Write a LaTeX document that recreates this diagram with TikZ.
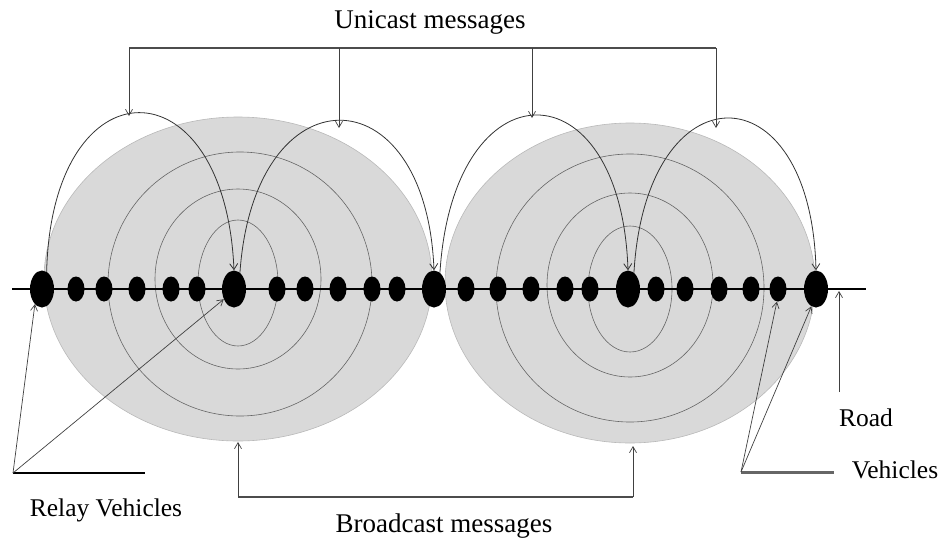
\documentclass[tikz,border=0pt]{standalone}
\usepackage{fontspec}
\setmainfont{Liberation Serif}
\usetikzlibrary{positioning,shapes.geometric,arrows.meta}

\begin{document}
\begin{tikzpicture}[
    x=1pt, y=-1pt,
    relay/.style={ellipse, fill=black, inner sep=0pt, minimum width=24pt, minimum height=37pt},
    car/.style={ellipse, fill=black, inner sep=0pt, minimum width=17pt, minimum height=25pt},
    zone/.style={fill=gray!30, draw=gray!55, line width=0.6pt},
    ring/.style={draw=black!60, line width=0.6pt},
    hop/.style={draw=black!80, line width=0.8pt, -{Straight Barb[length=6pt,width=8pt]}},
    pointer/.style={draw=black!75, line width=0.7pt, -{Straight Barb[length=6pt,width=7pt]}},
    bracket/.style={draw=black!70, line width=1.8pt},
    caption/.style={font=\fontsize{25.5}{30}\selectfont, inner sep=0pt},
    title/.style={font=\fontsize{27}{32}\selectfont, inner sep=0pt}
]
\useasboundingbox (0,0) rectangle (942,541);

% Coverage zones of the two clusters
\draw[zone] (238,279) ellipse [x radius=194, y radius=162];
\draw[zone] (630,283) ellipse [x radius=185, y radius=160];

% Broadcast rings
\draw[ring] (238,283) ellipse [x radius=40, y radius=63];
\draw[ring] (238,279) ellipse [x radius=83, y radius=90];
\draw[ring] (240,284) ellipse [x radius=132, y radius=132];
\draw[ring] (630,289) ellipse [x radius=42, y radius=63];
\draw[ring] (630,285) ellipse [x radius=83, y radius=92];
\draw[ring] (630,288) ellipse [x radius=134, y radius=134];

% Road
\coordinate (roadW) at (12,289);
\coordinate (roadE) at (866,289);
\draw[black, line width=1.8pt] (roadW) -- (roadE);

% Vehicles on the road
\node[relay] (r0) at (42,289) {};
\node[car] (c1) at (76,289) {};
\node[car] (c2) at (104,289) {};
\node[car] (c3) at (137,289) {};
\node[car] (c4) at (171,289) {};
\node[car] (c5) at (197,289) {};
\node[relay] (r1) at (234,289) {};
\node[car] (c6) at (277,289) {};
\node[car] (c7) at (305,289) {};
\node[car] (c8) at (338,289) {};
\node[car] (c9) at (372,289) {};
\node[car] (c10) at (397,289) {};
\node[relay] (r2) at (434,289) {};
\node[car] (c11) at (466,289) {};
\node[car] (c12) at (498,289) {};
\node[car] (c13) at (531,289) {};
\node[car] (c14) at (565,289) {};
\node[car] (c15) at (590,289) {};
\node[relay] (r3) at (628,289) {};
\node[car] (c16) at (656,289) {};
\node[car] (c17) at (685,289) {};
\node[car] (c18) at (719,289) {};
\node[car] (c19) at (751,289) {};
\node[car] (c20) at (778,289) {};
\node[relay] (r4) at (816,289) {};

% Unicast hops between relays
\draw[hop] (r0.75) .. controls (52,60) and (225,60) .. (r1.north);
\draw[hop] (r1.70) .. controls (254,70) and (426,70) .. (r2.north);
\draw[hop] (r2.70) .. controls (453,63) and (621,63) .. (r3.north);
\draw[hop] (r3.70) .. controls (646,67) and (811,67) .. (r4.north);

% Unicast bracket
\node[title] (uni) at (430,22) {Unicast messages};
\coordinate (u1) at (129,48);
\coordinate (u2) at (339,48);
\coordinate (u3) at (532,48);
\coordinate (u4) at (716,48);
\coordinate (h1) at (129,116);
\coordinate (h2) at (339,128);
\coordinate (h3) at (532,118);
\coordinate (h4) at (716,128);
\draw[bracket] (u1) -- (u4);
\draw[pointer] (u1) -- (h1);
\draw[pointer] (u2) -- (h2);
\draw[pointer] (u3) -- (h3);
\draw[pointer] (u4) -- (h4);

% Broadcast bracket
\node[title] (bro) at (444,526) {Broadcast messages};
\coordinate (b1) at (238,497);
\coordinate (b2) at (633,497);
\coordinate (z1) at (238,442);
\coordinate (z2) at (633,446);
\draw[bracket] (b1) -- (b2);
\draw[pointer] (b1) -- (z1);
\draw[pointer] (b2) -- (z2);

% Relay vehicles callout
\node[caption] (rel) at (106,510) {Relay Vehicles};
\coordinate (rv) at (13,473);
\draw[black, line width=1.5pt] (rv) -- (145,473);
\draw[pointer] (rv) -- (r0.245);
\draw[pointer] (rv) -- (r1.225);

% Vehicles callout
\node[caption] (veh) at (895,470) {Vehicles};
\coordinate (vv) at (741,472);
\draw[black!60, line width=3pt] (vv) -- (834,472);
\draw[pointer] (vv) -- (c20.265);
\draw[pointer] (vv) -- (r4.255);

% Road callout
\node[caption] (road) at (866,418) {Road};
\coordinate (rd) at (839,392);
\coordinate (rdTip) at (839,291);
\draw[pointer] (rd) -- (rdTip);

\end{tikzpicture}
\end{document}
